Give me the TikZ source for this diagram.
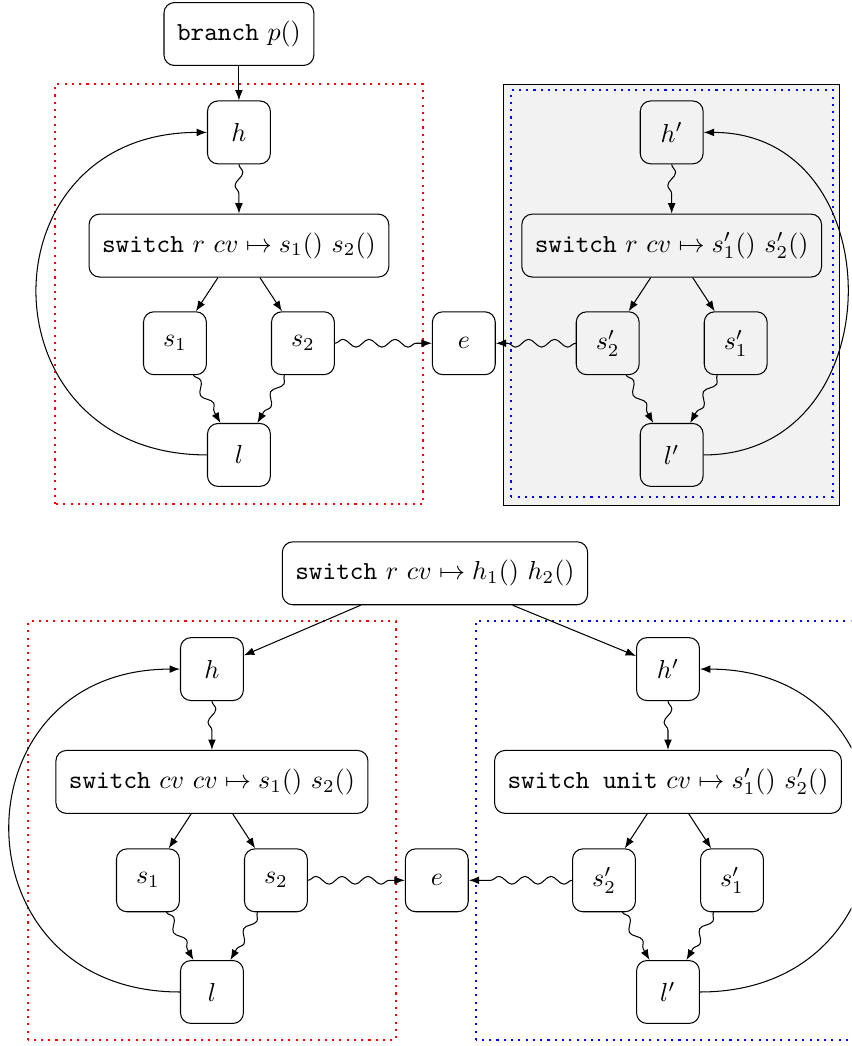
\documentclass[tikz,border=0pt]{standalone}
\usepackage{amsmath, amssymb}
\usepackage{tikz}
\usetikzlibrary{calc, positioning, arrows.meta, decorations.pathmorphing}
\usepackage{xcolor}
\definecolor{stone}{gray}{0.95}
\tikzset{
    blockbox/.style={rectangle, rounded corners, draw=black, minimum width=0.85cm, minimum height=0.85cm, inner sep=5pt, align=center},
    plainarrow/.style={-{Latex[length=4pt]}},
    wavyarrow/.style={-{Latex[length=4pt]}, decorate, decoration={snake, amplitude=1.5pt, segment length=10pt, post length=1.5mm}},
    loopedge/.style={-{Latex[length=4pt]}, looseness=1.8},
    redframe/.style={draw=red, thick, dotted},
    blueframe/.style={draw=blue, thick, dotted}
}

\begin{document}
\begin{tikzpicture}
            \clip (0,0) rectangle (11.51,14.14);

            % upper picture
            \draw[black, fill=stone] (6.81,7.31) rectangle (11.35,13.0);
            \draw[blueframe] (6.905,7.42) rectangle (11.257,12.92);
            \draw[redframe] (0.743,7.324) rectangle (5.716,13.0);

            \node[blockbox] (br) at (3.23,13.68) {\texttt{branch} $p()$};
            \node[blockbox] (h) at (3.23,12.35) {$h$};
            \node[blockbox] (sw) at (3.23,10.82) {\texttt{switch} $r$ $cv \mapsto s_1()$ $s_2()$};
            \node[blockbox] (s1) at (2.365,9.5) {$s_1$};
            \node[blockbox] (s2) at (4.095,9.5) {$s_2$};
            \node[blockbox] (l) at (3.23,7.99) {$l$};
            \node[blockbox, fill=white] (e) at (6.27,9.5) {$e$};
            \node[blockbox] (hp) at (9.08,12.35) {$h'$};
            \node[blockbox] (swp) at (9.08,10.82) {\texttt{switch} $r$ $cv \mapsto s'_1()$ $s'_2()$};
            \node[blockbox] (s2p) at (8.215,9.5) {$s'_2$};
            \node[blockbox] (s1p) at (9.945,9.5) {$s'_1$};
            \node[blockbox] (lp) at (9.08,7.99) {$l'$};

            \draw[plainarrow] (br) -- (h);
            \draw[wavyarrow] (h) -- (sw);
            \draw[plainarrow] (sw) -- (s1);
            \draw[plainarrow] (sw) -- (s2);
            \draw[wavyarrow] (s1.-60) -- (l.120);
            \draw[wavyarrow] (s2.-120) -- (l.60);
            \draw[loopedge] (l.west) to[out=180, in=180] (h.west);
            \draw[wavyarrow] (s2.east) -- (e.west);

            \draw[wavyarrow] (hp) -- (swp);
            \draw[plainarrow] (swp) -- (s2p);
            \draw[plainarrow] (swp) -- (s1p);
            \draw[wavyarrow] (s2p.-60) -- (lp.120);
            \draw[wavyarrow] (s1p.-120) -- (lp.60);
            \draw[loopedge, looseness=1.52] (lp.east) to[out=0, in=0] (hp.east);
            \draw[wavyarrow] (s2p.west) -- (e.east);

            % lower picture
            \draw[redframe] (0.378,0.081) rectangle (5.35,5.74);
            \draw[blueframe] (6.43,0.081) rectangle (11.8,5.74);

            \node[blockbox] (top) at (5.88,6.39) {\texttt{switch} $r$ $cv \mapsto h_1()$ $h_2()$};
            \node[blockbox] (hb) at (2.865,5.095) {$h$};
            \node[blockbox] (swb) at (2.865,3.57) {\texttt{switch} $cv$ $cv \mapsto s_1()$ $s_2()$};
            \node[blockbox] (s1b) at (2.0,2.24) {$s_1$};
            \node[blockbox] (s2b) at (3.73,2.24) {$s_2$};
            \node[blockbox] (lb) at (2.865,0.73) {$l$};
            \node[blockbox] (eb) at (5.905,2.24) {$e$};
            \node[blockbox] (hpb) at (9.03,5.095) {$h'$};
            \node[blockbox] (swpb) at (9.03,3.57) {\texttt{switch unit} $cv \mapsto s'_1()$ $s'_2()$};
            \node[blockbox] (s2pb) at (8.165,2.24) {$s'_2$};
            \node[blockbox] (s1pb) at (9.895,2.24) {$s'_1$};
            \node[blockbox] (lpb) at (9.03,0.73) {$l'$};

            \draw[plainarrow] (top) -- (hb);
            \draw[plainarrow] (top) -- (hpb);
            \draw[wavyarrow] (hb) -- (swb);
            \draw[plainarrow] (swb) -- (s1b);
            \draw[plainarrow] (swb) -- (s2b);
            \draw[wavyarrow] (s1b.-60) -- (lb.120);
            \draw[wavyarrow] (s2b.-120) -- (lb.60);
            \draw[loopedge] (lb.west) to[out=180, in=180] (hb.west);
            \draw[wavyarrow] (s2b.east) -- (eb.west);

            \draw[wavyarrow] (hpb) -- (swpb);
            \draw[plainarrow] (swpb) -- (s2pb);
            \draw[plainarrow] (swpb) -- (s1pb);
            \draw[wavyarrow] (s2pb.-60) -- (lpb.120);
            \draw[wavyarrow] (s1pb.-120) -- (lpb.60);
            \draw[loopedge] (lpb.east) to[out=0, in=0] (hpb.east);
            \draw[wavyarrow] (s2pb.west) -- (eb.east);
        \end{tikzpicture}
\end{document}
